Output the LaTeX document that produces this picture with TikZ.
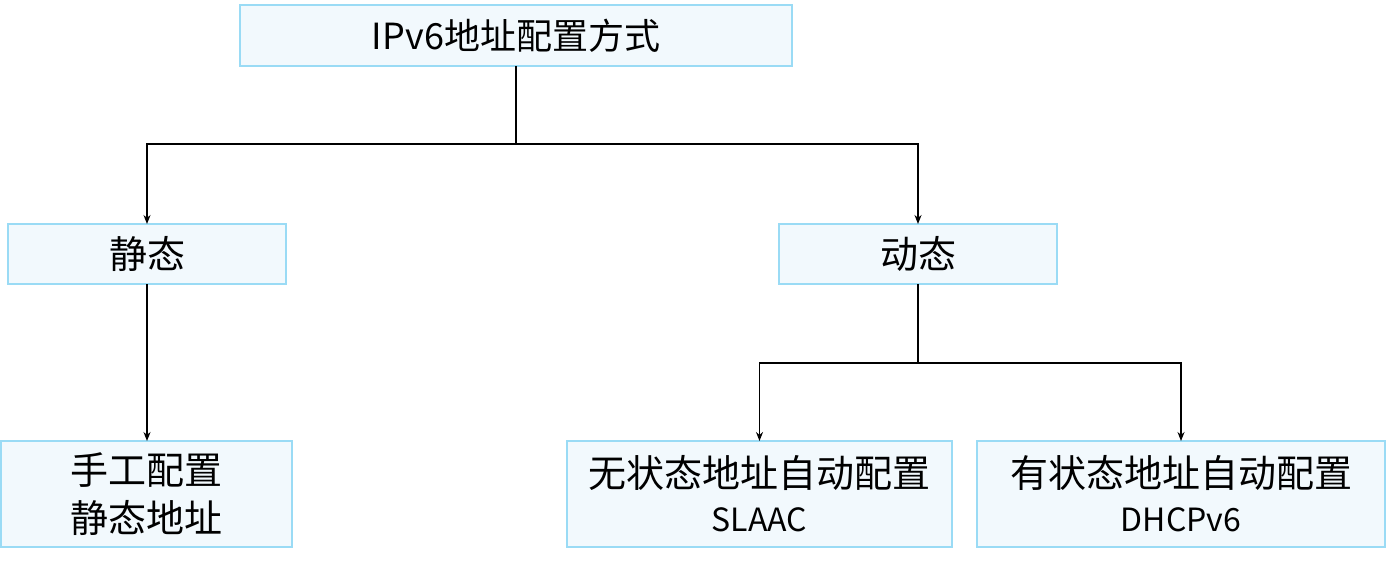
\documentclass[tikz,border=0pt]{standalone}
\usepackage{fontspec}
\setmainfont{Noto Sans CJK SC}
\usetikzlibrary{arrows.meta}
\definecolor{boxfill}{HTML}{F2F9FD}
\definecolor{boxline}{HTML}{9ADBF5}
\tikzset{
  box/.style={draw=boxline, fill=boxfill, line width=2pt, inner sep=0pt, outer sep=0pt, align=center, text=black},
  conn/.style={line width=1.4pt, black},
  arr/.style={conn, -{Stealth[length=9pt,width=7pt]}},
}
\begin{document}
\begin{tikzpicture}[x=1pt,y=-1pt]
\useasboundingbox (0,0) rectangle (1386,563);
\node[box, minimum width=552pt, minimum height=61pt, font=\fontsize{36}{42}\selectfont] (top) at (516,35.5) {IPv6地址配置方式};
\node[box, minimum width=278pt, minimum height=60pt, font=\fontsize{38}{44}\selectfont] (st) at (147,254) {静态};
\node[box, minimum width=278pt, minimum height=60pt, font=\fontsize{38}{44}\selectfont] (dy) at (918,254) {动态};
\node[box, minimum width=291pt, minimum height=106pt, font=\fontsize{38}{48}\selectfont] (man) at (146.5,494) {手工配置\\静态地址};
\node[box, minimum width=385pt, minimum height=106pt, font=\fontsize{38}{44}\selectfont] (sl) at (759.5,494) {无状态地址自动配置\\{\fontsize{32}{36}\selectfont SLAAC}};
\node[box, minimum width=408pt, minimum height=106pt, font=\fontsize{38}{44}\selectfont] (dh) at (1181,494) {有状态地址自动配置\\{\fontsize{32}{36}\selectfont DHCPv6}};
\coordinate (j1) at (516,144);
\coordinate (j2) at (918,363);
\draw[conn] (top.south) -- (j1);
\draw[arr] (j1) -| (st.north);
\draw[arr] (j1) -| (dy.north);
\draw[arr] (st.south) -- (man.north -| st.south);
\draw[conn] (dy.south) -- (j2);
\draw[arr] (j2) -| (sl.north);
\draw[arr] (j2) -| (dh.north);
\end{tikzpicture}
\end{document}
